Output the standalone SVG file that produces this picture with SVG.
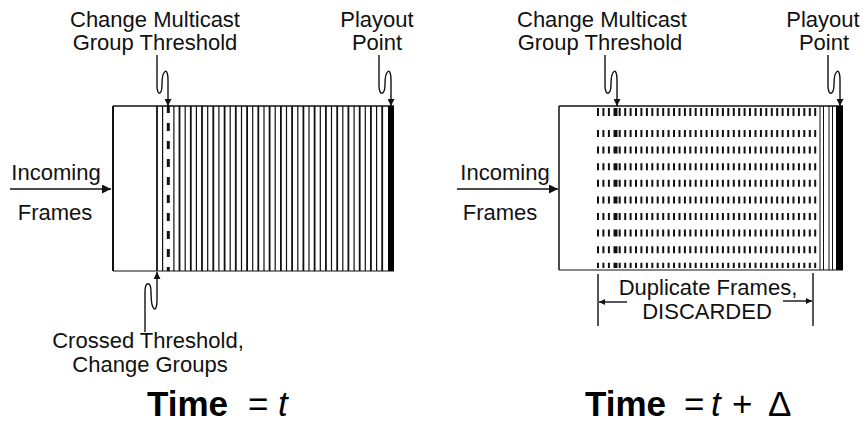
<svg xmlns="http://www.w3.org/2000/svg" width="863" height="426" viewBox="0 0 863 426">
<style>
.lbl{font-family:"Liberation Sans",Arial,Helvetica,sans-serif;font-size:22px;fill:#111;text-anchor:middle}
.time{font-family:"Liberation Sans",Arial,Helvetica,sans-serif;font-size:35px;fill:#000}
.edge{stroke:#111;fill:none}
.conn{stroke:#111;fill:none;stroke-width:1.4}
</style>
<defs>
<marker id="ah" viewBox="0 0 10 10" refX="10" refY="5" markerWidth="9" markerHeight="7" orient="auto" markerUnits="userSpaceOnUse"><path d="M0,0L10,5L0,10z" fill="#111"/></marker>
<marker id="ah2" viewBox="0 0 10 10" refX="10" refY="5" markerWidth="11" markerHeight="9" orient="auto" markerUnits="userSpaceOnUse"><path d="M0,0L10,5L0,10z" fill="#111"/></marker>
<marker id="ah3" viewBox="0 0 10 10" refX="10" refY="5" markerWidth="8" markerHeight="6" orient="auto" markerUnits="userSpaceOnUse"><path d="M0,0L10,5L0,10z" fill="#111"/></marker>
</defs>
<rect width="863" height="426" fill="#fff"/>

<g id="buffer-t">
<path class="edge" stroke-width="2" d="M113,106V271"/>
<path class="edge" stroke-width="1.5" d="M113,106H394"/>
<path class="edge" stroke-width="1.2" stroke="#333" d="M113,271H394"/>
<path class="edge" stroke-width="1.8" d="M157,106V271M179.5,106V271M190.8,106V271M202,106V271M213.3,106V271M224.6,106V271M235.8,106V271M247.1,106V271M258.3,106V271M269.6,106V271M280.9,106V271M292.1,106V271M303.4,106V271M314.6,106V271M325.9,106V271M337.2,106V271M348.4,106V271M359.7,106V271M370.9,106V271M382.2,106V271"/>
<path class="edge" stroke-width="1.2" stroke="#333" d="M162.6,106V271M173.9,106V271M185.2,106V271M196.4,106V271M207.7,106V271M218.9,106V271M230.2,106V271M241.5,106V271M252.7,106V271M264,106V271M275.2,106V271M286.5,106V271M297.8,106V271M309,106V271M320.3,106V271M331.5,106V271M342.8,106V271M354.1,106V271M365.3,106V271M376.6,106V271"/>
<path class="edge" stroke-width="3" stroke-dasharray="8 10" d="M168.3,105V271"/>
<rect x="388" y="106" width="6" height="165" fill="#000"/>
</g>

<g id="buffer-t-delta">
<path class="edge" stroke-width="1.5" d="M559,106V270"/>
<path class="edge" stroke-width="1.5" d="M559,106H843"/>
<path class="edge" stroke-width="1" stroke="#555" d="M559,270H843"/>
<path class="edge" stroke-width="2" stroke-dasharray="8 14 7 9.6 7 9.6 7 9.6 7 9.6 7 9.6 7 9.6 7 9.6 7 9.6 7 20" d="M598,108V268M603.4,108V268M608.9,108V268M619.7,108V268M625.2,108V268M630.6,108V268M636,108V268M641.4,108V268M646.9,108V268M652.3,108V268M657.7,108V268M663.2,108V268M668.6,108V268M674,108V268M679.5,108V268M684.9,108V268M690.3,108V268M695.7,108V268M701.2,108V268M706.6,108V268M712,108V268M717.5,108V268M722.9,108V268M728.3,108V268M733.8,108V268M739.2,108V268M744.6,108V268M750,108V268M755.5,108V268M760.9,108V268M766.3,108V268M771.8,108V268M777.2,108V268M782.6,108V268M788.1,108V268M793.5,108V268M798.9,108V268M804.3,108V268M809.8,108V268M815.2,108V268"/>
<path class="edge" stroke-width="4" stroke-dasharray="8 14 7 9.6 7 9.6 7 9.6 7 9.6 7 9.6 7 9.6 7 9.6 7 9.6 7 20" d="M615.5,108V268"/>
<path class="edge" stroke-width="1" d="M820,106V270M823.5,106V270M829,106V270M832.5,106V270"/>
<rect x="836" y="106" width="7" height="164" fill="#000"/>
</g>

<g id="label-change-t">
<text class="lbl" x="155" y="27">Change Multicast</text>
<text class="lbl" x="155" y="50">Group Threshold</text>
</g>
<g id="label-playout-t">
<text class="lbl" x="377" y="27">Playout</text>
<text class="lbl" x="377" y="50">Point</text>
</g>
<g id="label-incoming-t">
<text class="lbl" x="56" y="180">Incoming</text>
<text class="lbl" x="55" y="220">Frames</text>
</g>
<g id="label-crossed">
<text class="lbl" x="148" y="348">Crossed Threshold,</text>
<text class="lbl" x="150" y="372">Change Groups</text>
</g>
<g id="label-change-td">
<text class="lbl" x="602" y="27">Change Multicast</text>
<text class="lbl" x="600" y="50">Group Threshold</text>
</g>
<g id="label-playout-td">
<text class="lbl" x="823" y="27">Playout</text>
<text class="lbl" x="824" y="50">Point</text>
</g>
<g id="label-incoming-td">
<text class="lbl" x="505" y="180">Incoming</text>
<text class="lbl" x="500" y="220">Frames</text>
</g>
<g id="label-duplicate">
<text class="lbl" x="708" y="295">Duplicate Frames,</text>
<text class="lbl" x="707" y="319">DISCARDED</text>
</g>
<g id="title-t">
<text class="time" y="416"><tspan x="147" font-weight="bold">Time</tspan><tspan x="248">=</tspan><tspan x="278" font-style="italic">t</tspan></text>
</g>
<g id="title-td">
<text class="time" y="416"><tspan x="585" font-weight="bold">Time</tspan><tspan x="684">=</tspan><tspan x="711" font-style="italic">t</tspan><tspan x="732">+</tspan><tspan x="768">Δ</tspan></text>
</g>

<g id="connectors">
<path class="conn" marker-end="url(#ah)" d="M157,55V86C157,96 162,96 162,84C162,70 168,66 168,80V106"/>
<path class="conn" marker-end="url(#ah)" d="M379,55V86C379,96 385,96 385,84C385,70 391,66 391,80V106"/>
<path class="conn" marker-end="url(#ah)" d="M605,55V86C605,96 611,96 611,84C611,70 617,66 617,80V106"/>
<path class="conn" marker-end="url(#ah)" d="M828,55V86C828,96 834,96 834,84C834,70 840,66 840,80V106"/>
<path class="conn" marker-end="url(#ah)" d="M145,332V292C145,281 151,281 151,292C151,312 157,314 157,300V272"/>
<path class="conn" stroke-width="2.5" marker-end="url(#ah2)" d="M10,189H111"/>
<path class="conn" stroke-width="2.5" marker-end="url(#ah2)" d="M457,189H558"/>
<path class="conn" d="M598,274V326M813,273V326"/>
<path class="conn" marker-end="url(#ah3)" d="M627,302H599"/>
<path class="conn" marker-end="url(#ah3)" d="M783,301H812"/>
</g>
</svg>
